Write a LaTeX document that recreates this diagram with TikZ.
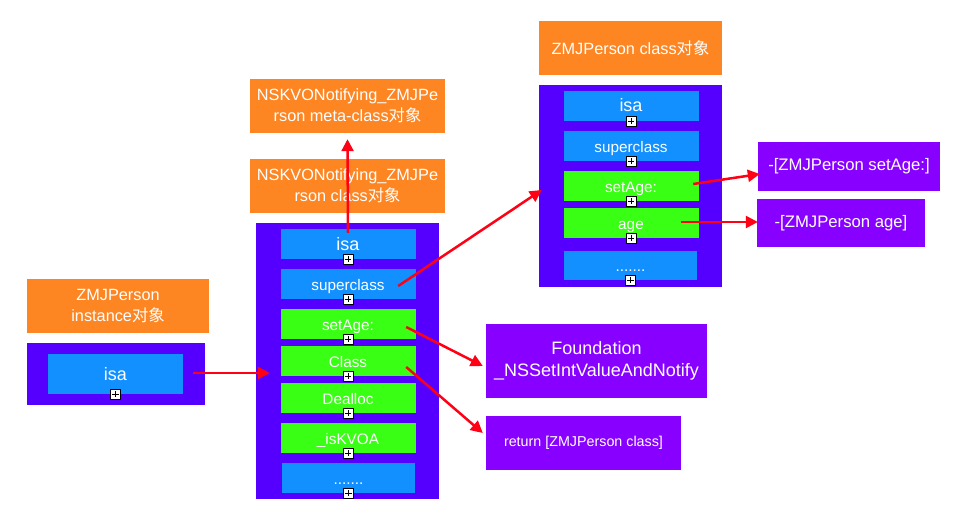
\documentclass[tikz,border=0pt]{standalone}
\usepackage{fontspec}
\setmainfont{Liberation Sans}
\newfontfamily\cjk{Noto Sans CJK SC}
\usetikzlibrary{arrows.meta}
\definecolor{korange}{RGB}{253,134,35}
\definecolor{kpurple}{RGB}{85,0,255}
\definecolor{kblue}{RGB}{18,144,255}
\definecolor{kgreen}{RGB}{57,255,20}
\definecolor{kviolet}{RGB}{136,0,255}
\definecolor{kred}{RGB}{255,0,20}
\begin{document}
\begin{tikzpicture}[x=1pt,y=-1pt,
  base/.style={rectangle, inner sep=0pt, text=white, align=center},
  title/.style={base, fill=korange, font=\fontsize{16.3}{21}\selectfont},
  cont/.style={base, fill=kpurple},
  bblock/.style={base, fill=kblue, minimum width=135pt, minimum height=30pt, text height=12pt, text depth=0pt, font=\fontsize{15.3}{18}\selectfont},
  gblock/.style={base, fill=kgreen, minimum width=135pt, minimum height=30pt, text height=12pt, text depth=0pt, font=\fontsize{15.3}{18}\selectfont},
  vbox/.style={base, fill=kviolet},
  plusbox/.style={draw=black, fill=white, line width=0.9pt, minimum size=10pt, inner sep=0pt,
    path picture={\draw[black,line width=0.9pt]
      ([xshift=1.8pt]path picture bounding box.west) -- ([xshift=-1.8pt]path picture bounding box.east)
      ([yshift=-1.8pt]path picture bounding box.north) -- ([yshift=1.8pt]path picture bounding box.south);}},
  arr/.style={draw=kred, line width=2.5pt, -{Triangle[length=12pt,width=12pt]}}
]
\useasboundingbox (0,0) rectangle (962,527);

% ---------- left: instance ----------
\node[title, minimum width=182pt, minimum height=54pt] (ltitle) at (118,306) {ZMJPerson\\instance{\cjk 对象}};
\node[cont, minimum width=178pt, minimum height=62pt] (lbox) at (116,374) {};
\node[bblock, font=\fontsize{18}{20}\selectfont, minimum height=40pt] (lisa) at (115.5,374) {isa};
\node[plusbox] (lisap) at (lisa.south) {};

% ---------- middle: NSKVONotifying class ----------
\node[title, minimum width=195pt, minimum height=54pt] (mmeta) at (347.5,106) {NSKVONotifying\_ZMJPe\\rson meta-class{\cjk 对象}};
\node[title, minimum width=195pt, minimum height=54pt] (mclass) at (347.5,186) {NSKVONotifying\_ZMJPe\\rson class{\cjk 对象}};
\node[cont, minimum width=183pt, minimum height=276pt] (mbox) at (347.5,361) {};
\node[bblock, font=\fontsize{18}{20}\selectfont] (misa) at (348,244) {isa};
\node[plusbox] (misap) at (misa.south) {};
\node[bblock] (msuper) at (348,284) {superclass};
\node[plusbox] (msuperp) at (msuper.south) {};
\node[gblock] (mset) at (348,324) {setAge:};
\node[plusbox] (msetp) at (mset.south) {};
\node[gblock] (mcls) at (348,361) {Class};
\node[plusbox] (mclsp) at (mcls.south) {};
\node[gblock] (mdea) at (348,398) {Dealloc};
\node[plusbox] (mdeap) at (mdea.south) {};
\node[gblock] (mkvo) at (348,438) {\_isKVOA};
\node[plusbox] (mkvop) at (mkvo.south) {};
\node[bblock, minimum width=133pt] (mdots) at (348.5,478) {.......};
\node[plusbox] (mdotsp) at (mdots.south) {};

% ---------- right: ZMJPerson class ----------
\node[title, minimum width=183pt, minimum height=54pt] (rtitle) at (630.5,48) {ZMJPerson class{\cjk 对象}};
\node[cont, minimum width=183pt, minimum height=202pt] (rbox) at (630.5,186) {};
\node[bblock, font=\fontsize{18}{20}\selectfont] (risa) at (631,106) {isa};
\node[plusbox] (risap) at (risa.south) {};
\node[bblock] (rsuper) at (631,146) {superclass};
\node[plusbox] (rsuperp) at (rsuper.south) {};
\node[gblock] (rset) at (631,186) {setAge:};
\node[plusbox] (rsetp) at (rset.south) {};
\node[gblock] (rage) at (631,223) {age};
\node[plusbox] (ragep) at (rage.south) {};
\node[bblock, minimum width=133pt, minimum height=29pt] (rdots) at (630.5,265.5) {.......};
\node[plusbox] (rdotsp) at (rdots.south) {};

% ---------- method boxes ----------
\node[vbox, minimum width=182pt, minimum height=49pt, font=\fontsize{16.7}{20}\selectfont] (rsetm) at (849,166.5) {-[ZMJPerson setAge:]};
\node[vbox, minimum width=168pt, minimum height=48pt, font=\fontsize{16.7}{20}\selectfont] (ragem) at (841,223) {-[ZMJPerson age]};
\node[vbox, minimum width=221pt, minimum height=74pt, font=\fontsize{18}{21.5}\selectfont] (found) at (596.5,361) {Foundation\\\_NSSetIntValueAndNotify};
\node[vbox, minimum width=195pt, minimum height=54pt, font=\fontsize{14.3}{17}\selectfont] (ret) at (583.5,443) {return [ZMJPerson class]};

% ---------- arrows ----------
\coordinate (lstart) at ([xshift=10pt,yshift=1pt]lisa.east);
\draw[arr] (lstart) -- ([xshift=14pt]mbox.west |- lstart);
\draw[arr] ([yshift=-4pt]misa.north) -- ([yshift=-6pt]mmeta.south);
\draw[arr] ([xshift=-17.5pt,yshift=-2pt]msuper.east) -- ([shift={(3pt,-4pt)}]rbox.west);
\draw[arr] ([xshift=-5.5pt,yshift=2pt]rset.east) -- ([shift={(2pt,-7.5pt)}]rsetm.west);
\draw[arr] ([xshift=-17.5pt,yshift=1pt]rage.east) -- ([xshift=1pt,yshift=1pt]ragem.west);
\draw[arr] ([xshift=-9.5pt,yshift=-3pt]mset.east) -- ([shift={(-3pt,-5pt)}]found.west);
\draw[arr] ([xshift=-9.5pt,yshift=-6pt]mcls.east) -- ([shift={(-3pt,10pt)}]ret.west);
\end{tikzpicture}
\end{document}
